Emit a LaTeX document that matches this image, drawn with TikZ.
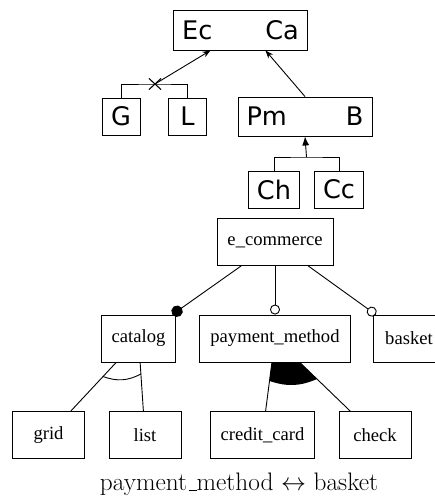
\documentclass[tikz,border=0pt]{standalone}
\usepackage{fontspec}
\newfontfamily\featfont{Liberation Serif}
\newfontfamily\viewfont{DejaVu Sans}
\usetikzlibrary{arrows.meta,calc,shapes.misc,backgrounds}

\begin{document}
\begin{tikzpicture}[x=1pt,y=-1pt,
  line width=0.9pt,
  view/.style={draw, fill=white, inner xsep=8.5pt, inner ysep=0pt,
    minimum width=38pt, minimum height=37pt,
    font=\viewfont\fontsize{25.6}{30}\selectfont},
  feat/.style={draw, fill=white, inner xsep=10.5pt,
    minimum width=72pt, minimum height=47pt,
    font=\featfont\fontsize{18.6}{22}\selectfont},
  mand/.style={-{Circle[length=11.5pt]}},
  opt/.style={-{Circle[open,length=10pt]}},
  viewarrow/.style={-{Stealth[length=8pt,width=6pt]}}]
  \useasboundingbox (0,0) rectangle (435,499);

  % views
  \node[view, minimum height=40pt] (ecca) at (240.5,30) {Ec\hspace{53pt}Ca};
  \node[view] (g) at (121,116.5) {G};
  \node[view] (l) at (187.5,116.5) {L};
  \node[view, minimum height=39pt] (pmb) at (305,116.5) {Pm\hspace{59pt}B};
  \node[view] (ch) at (274,189.5) {Ch};
  \node[view] (cc) at (339,189.5) {Cc};
  \node[draw, cross out, line width=1.1pt, minimum width=11pt, minimum height=10pt, inner sep=0pt] (xgl) at (155,84) {};
  \coordinate (chcc) at (306.5,157);

  \draw (g.north) |- (xgl.center) -| (l.north);
  \draw[viewarrow] (xgl.center) -- ([xshift=-30pt]ecca.south);
  \draw[viewarrow] (pmb.north) -- ([xshift=25pt]ecca.south);
  \draw (ch.north) |- (chcc) -| (cc.north);
  \draw[-{Latex[length=9pt,width=7pt]}] (chcc) -- (pmb.south);

  % feature model
  \node[feat] (ec) at (275,242) {e\_commerce};
  \node[feat] (cat) at (138.5,338.5) {catalog};
  \node[feat] (pm) at (275,338.5) {payment\_method};
  \node[feat] (bsk) at (409,338.5) {basket};
  \node[feat] (grid) at (48.5,435) {grid};
  \node[feat] (list) at (145,435) {list};
  \node[feat] (crd) at (262.5,435) {credit\_card};
  \node[feat] (chk) at (375,435) {check};

  \draw[mand] (ec) -- (cat);
  \draw[opt] (ec) -- (pm);
  \draw[opt] (ec) -- (bsk);
  \draw (cat) -- (grid);
  \draw (cat) -- (list);
  \draw (pm) -- (crd);
  \draw (pm) -- (chk);
  \draw ($(cat)!.394!(grid)$) to[bend right=24] ($(cat)!.368!(list)$);
  \begin{scope}[on background layer]
    \fill (pm.center) -- ($(pm)!.44!(crd)$) to[bend right=21] ($(pm)!.42!(chk)$) -- cycle;
  \end{scope}

  \node[font=\fontsize{25.3}{30}\selectfont] (cap) at (239,484)
    {payment\kern.06em\rule[-1pt]{.32em}{.8pt}method $\leftrightarrow$ basket};
\end{tikzpicture}
\end{document}
